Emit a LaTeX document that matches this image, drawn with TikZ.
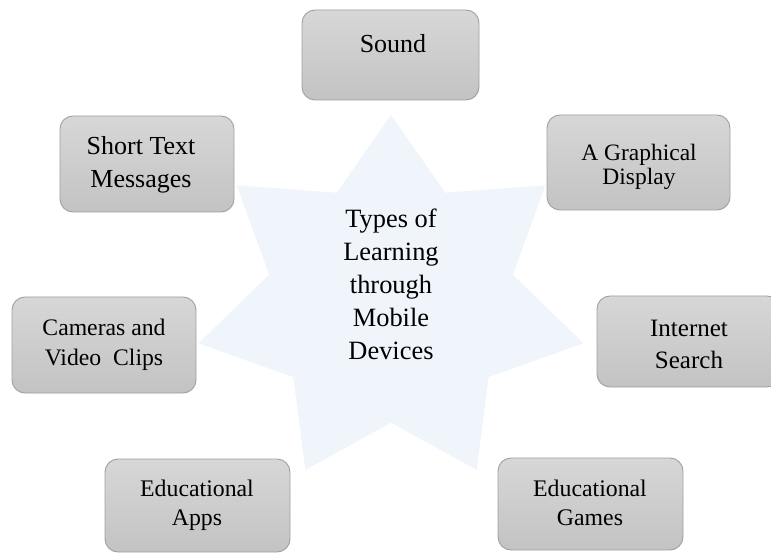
\documentclass[tikz,border=0pt]{standalone}
\usepackage{fontspec}
\setmainfont{Liberation Serif}
\definecolor{starfill}{RGB}{239,245,251}
\definecolor{tiletop}{RGB}{215,215,215}
\definecolor{tilebottom}{RGB}{195,195,195}
\definecolor{tileedge}{RGB}{160,160,160}
\tikzset{
  tile/.style={draw=tileedge, line width=0.9pt, rounded corners=13pt,
    top color=tiletop, bottom color=tilebottom},
  % multi-line labels are placed by the baseline of their last line
  lbl/.style={align=center, anchor=base, inner sep=0pt, text=black},
}
\begin{document}
\begin{tikzpicture}[x=1pt,y=-1pt]
\useasboundingbox (0,0) rectangle (771,553);

% seven-pointed star behind everything
\fill[starfill] (391,115)
  \foreach \k in {0,...,6}{
    -- ({391+125*cos(90+(\k+0.5)*360/7)},{301.7-121*sin(90+(\k+0.5)*360/7)})
    -- ({391+197.5*cos(90+(\k+1)*360/7)},{301.7-186.7*sin(90+(\k+1)*360/7)})
  } -- cycle;
\node[lbl, font=\fontsize{26.4}{33}\selectfont] (hub) at (391,359.5)
  {Types of\\Learning\\through\\Mobile\\Devices};

% surrounding tiles
\draw[tile] (302,10) rectangle (479,100) coordinate (soundbox);
\node[lbl, font=\fontsize{26}{32.5}\selectfont] (sound) at (393,53) {Sound};

\draw[tile] (547,115) rectangle (730,210) coordinate (displaybox);
\node[lbl, font=\fontsize{23.5}{24}\selectfont] (display) at (639,184.5) {A Graphical\\Display};

\draw[tile] (60,116) rectangle (234,212) coordinate (textbox);
\node[lbl, font=\fontsize{26}{32.3}\selectfont] (sms) at (141,187.3) {Short Text\\Messages};

\draw[tile] (12,297) rectangle (196,393) coordinate (camerabox);
\node[lbl, font=\fontsize{23.7}{30}\selectfont] (camera) at (104,365) {Cameras and\\Video\ \ Clips};

\draw[tile] (597,296) rectangle (780,387) coordinate (searchbox);
\node[lbl, font=\fontsize{25}{31.7}\selectfont] (search) at (689,368.3) {Internet\\Search};

\draw[tile] (105,459) rectangle (290,552) coordinate (appsbox);
\node[lbl, font=\fontsize{23.8}{29}\selectfont] (apps) at (197,525) {Educational\\Apps};

\draw[tile] (498,458) rectangle (683,550) coordinate (gamesbox);
\node[lbl, font=\fontsize{23.8}{28.5}\selectfont] (games) at (590,525) {Educational\\Games};
\end{tikzpicture}
\end{document}
